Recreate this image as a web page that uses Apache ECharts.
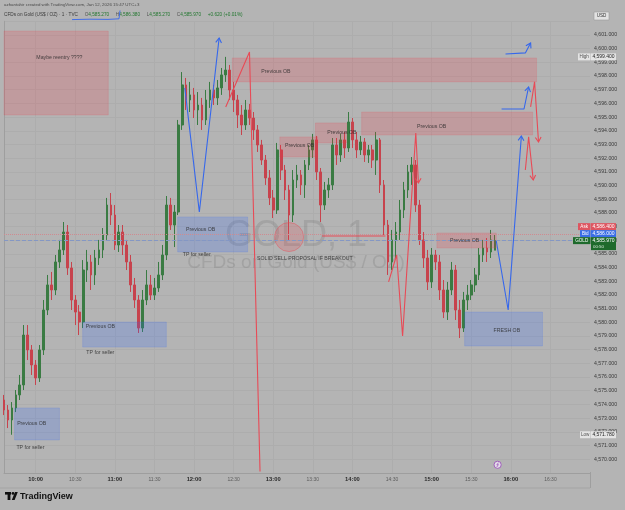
<!DOCTYPE html>
<html>
<head>
<meta charset="utf-8">
<script src="https://cdn.jsdelivr.net/npm/echarts@6/dist/echarts.min.js"></script>
<style>
html,body{margin:0;padding:0;background:#b4b4b4;}
#chart{width:625px;height:510px;}
</style>
</head>
<body>
<div id="chart"></div>
<script>
// GOLD 1m chart, candles grouped by 3 minutes from 09:36
var firstCandle = '09:36';
var candleMinutes = 3;
var slotCount = 149; // 09:36 .. 17:00

var openPx = [
  4574.32, 4573.59, 4572.86, 4573.74, 4574.69, 4575.42, 4579.07, 4577.98, 4576.88, 4575.93,
  4577.98, 4580.90, 4582.73, 4582.36, 4584.41, 4585.29, 4586.60, 4583.97, 4581.63, 4580.75,
  4580.02, 4583.82, 4584.41, 4583.46, 4584.70, 4585.29, 4586.38, 4588.57, 4587.84, 4585.65,
  4586.60, 4585.65, 4584.41, 4582.73, 4581.63, 4579.58, 4581.63, 4582.73, 4581.99, 4582.51,
  4583.46, 4584.92, 4588.57, 4587.11, 4588.06, 4594.42, 4597.35, 4596.25, 4596.62, 4595.52,
  4595.88, 4594.79, 4596.25, 4596.98, 4596.40, 4597.13, 4598.08, 4598.44, 4596.98, 4596.25,
  4595.15, 4594.42, 4595.52, 4594.93, 4594.06, 4592.96, 4591.86, 4590.55, 4589.09, 4588.21,
  4592.60, 4591.13, 4589.67, 4587.84, 4590.40, 4590.77, 4590.04, 4591.50, 4592.60, 4593.33,
  4590.99, 4588.57, 4589.67, 4590.04, 4592.96, 4592.23, 4593.33, 4592.74, 4594.64, 4593.33,
  4592.60, 4593.18, 4592.23, 4592.60, 4591.86, 4593.33, 4590.04, 4587.11, 4584.41, 4586.02,
  4586.60, 4588.21, 4589.67, 4590.99, 4591.50, 4588.57, 4586.02, 4584.70, 4582.95, 4584.92,
  4584.41, 4582.36, 4580.75, 4582.36, 4583.82, 4580.90, 4579.58, 4581.63, 4581.99, 4582.73,
  4583.46, 4584.92, 4585.43, 4585.14, 4585.27
];
var closePx = [
  4573.59, 4572.86, 4573.74, 4574.69, 4575.42, 4579.07, 4577.98, 4576.88, 4575.93, 4577.98,
  4580.90, 4582.73, 4582.36, 4584.41, 4585.29, 4586.60, 4583.97, 4581.63, 4580.75, 4580.02,
  4583.82, 4584.41, 4583.46, 4584.70, 4585.29, 4586.38, 4588.57, 4587.84, 4585.65, 4586.60,
  4585.65, 4584.41, 4582.73, 4581.63, 4579.58, 4581.63, 4582.73, 4581.99, 4582.51, 4583.46,
  4584.92, 4588.57, 4587.11, 4588.06, 4594.42, 4597.35, 4596.25, 4596.62, 4595.52, 4595.88,
  4594.79, 4596.25, 4596.98, 4596.40, 4597.13, 4598.08, 4598.44, 4596.98, 4596.25, 4595.15,
  4594.42, 4595.52, 4594.93, 4594.06, 4592.96, 4591.86, 4590.55, 4589.09, 4588.21, 4592.60,
  4591.13, 4589.67, 4587.84, 4590.40, 4590.77, 4590.04, 4591.50, 4592.60, 4593.33, 4590.99,
  4588.57, 4589.67, 4590.04, 4592.96, 4592.23, 4593.33, 4592.74, 4594.64, 4593.33, 4592.60,
  4593.18, 4592.23, 4592.60, 4591.86, 4593.33, 4590.04, 4587.11, 4584.41, 4586.02, 4586.60,
  4588.21, 4589.67, 4590.99, 4591.50, 4588.57, 4586.02, 4584.70, 4582.95, 4584.92, 4584.41,
  4582.36, 4580.75, 4582.36, 4583.82, 4580.90, 4579.58, 4581.63, 4581.99, 4582.73, 4583.46,
  4584.92, 4585.43, 4585.14, 4586.02, 4585.97
];
var highPx = [
  4574.69, 4573.95, 4574.17, 4575.05, 4576.15, 4579.80, 4579.80, 4578.34, 4577.24, 4578.34,
  4581.63, 4583.46, 4583.68, 4584.92, 4586.02, 4587.33, 4587.11, 4584.41, 4581.99, 4581.26,
  4584.55, 4585.29, 4584.92, 4585.29, 4586.02, 4586.89, 4589.09, 4589.45, 4588.57, 4587.11,
  4587.11, 4586.02, 4584.92, 4583.24, 4581.99, 4582.36, 4583.82, 4583.46, 4583.24, 4584.41,
  4585.65, 4589.23, 4589.09, 4588.57, 4594.79, 4598.29, 4597.86, 4597.57, 4597.13, 4596.83,
  4596.40, 4596.98, 4597.57, 4597.35, 4597.71, 4598.59, 4599.40, 4598.81, 4597.57, 4596.62,
  4595.88, 4596.25, 4595.96, 4595.37, 4594.42, 4593.33, 4592.23, 4591.13, 4589.67, 4593.11,
  4592.96, 4591.50, 4590.04, 4591.13, 4591.50, 4591.13, 4591.86, 4592.96, 4593.77, 4593.62,
  4591.28, 4590.26, 4590.55, 4593.47, 4593.47, 4593.77, 4593.91, 4595.37, 4594.93, 4593.91,
  4593.62, 4593.47, 4592.96, 4592.96, 4593.91, 4593.47, 4590.40, 4587.48, 4586.75, 4587.33,
  4588.94, 4590.26, 4591.50, 4592.08, 4591.86, 4588.94, 4586.60, 4585.29, 4585.43, 4585.29,
  4584.92, 4583.09, 4582.95, 4584.41, 4584.19, 4581.63, 4582.22, 4582.73, 4583.09, 4583.97,
  4585.43, 4586.02, 4586.16, 4586.75, 4586.38
];
var lowPx = [
  4573.22, 4572.27, 4571.78, 4573.44, 4574.32, 4575.05, 4577.24, 4576.15, 4575.42, 4575.64,
  4577.61, 4580.53, 4581.63, 4581.99, 4583.97, 4584.92, 4583.46, 4580.90, 4579.80, 4579.07,
  4579.58, 4582.95, 4582.36, 4582.73, 4584.19, 4584.70, 4586.02, 4587.11, 4585.29, 4585.14,
  4584.92, 4583.82, 4582.22, 4581.05, 4579.22, 4579.29, 4581.26, 4581.63, 4581.63, 4582.22,
  4583.09, 4584.55, 4586.75, 4585.50, 4587.84, 4594.06, 4595.52, 4595.37, 4594.93, 4594.42,
  4594.06, 4594.42, 4595.67, 4595.88, 4595.88, 4596.62, 4597.57, 4596.25, 4595.37, 4594.20,
  4593.69, 4594.06, 4594.42, 4593.33, 4592.45, 4591.50, 4590.04, 4588.57, 4587.62, 4587.92,
  4590.40, 4588.94, 4586.02, 4587.33, 4589.82, 4589.31, 4589.09, 4591.13, 4592.01, 4590.40,
  4587.33, 4588.21, 4589.09, 4589.67, 4591.50, 4591.72, 4592.01, 4592.45, 4592.74, 4592.01,
  4592.23, 4591.72, 4591.65, 4591.28, 4590.77, 4589.45, 4586.38, 4583.46, 4583.82, 4584.70,
  4586.02, 4587.62, 4589.09, 4590.04, 4588.06, 4585.65, 4583.97, 4582.36, 4582.51, 4583.82,
  4581.63, 4580.31, 4580.17, 4581.99, 4580.17, 4578.85, 4579.29, 4580.90, 4581.63, 4582.22,
  4583.09, 4584.41, 4584.41, 4584.70, 4585.27
];

// quote tags
var lastPrice = 4585.97, askPrice = 4586.40, bidPrice = 4586.00;
var rangeHigh = 4599.40, rangeLow = 4571.78;

// drawn zones: [from, to, top, bottom]
var sellZones = [
  ['09:36', '10:55', 4601.29, 4595.15],
  ['12:29', '16:19.5', 4599.32, 4597.57],
  ['14:07', '16:16.5', 4595.37, 4593.69],
  ['13:05', '13:33.6', 4593.55, 4592.08],
  ['13:32', '13:55.6', 4594.57, 4593.11],
  ['15:04', '15:49', 4586.53, 4585.43]
];
var buyZones = [
  ['11:47.6', '12:40.6', 4587.70, 4585.14],
  ['10:35.6', '11:39', 4580.02, 4578.19],
  ['09:44', '10:18', 4573.74, 4571.40],
  ['15:25', '16:24', 4580.75, 4578.27]
];
var notes = [
  ['10:18', 4599.32, 'Maybe reentry ????'],
  ['13:02', 4598.29, 'Previous OB'],
  ['15:00', 4594.28, 'Previous OB'],
  ['13:20', 4592.89, 'Previous OB'],
  ['13:52', 4593.84, 'Previous OB'],
  ['15:25', 4585.94, 'Previous OB'],
  ['12:05', 4586.75, 'Previous OB'],
  ['12:02', 4584.92, 'TP for seller'],
  ['10:49', 4579.66, 'Previous OB'],
  ['10:49', 4577.76, 'TP for seller'],
  ['09:57', 4572.57, 'Previous OB'],
  ['09:56', 4570.81, 'TP for seller'],
  ['15:57', 4579.36, 'FRESH OB'],
  ['13:24', 4584.63, 'SOLID SELL PROPOSAL IF BREAKOUT']
];
// drawn paths
var bluePaths = [
  [['11:53', 4597.13], ['12:04', 4588.06], ['12:19', 4600.78]],
  [['15:49', 4585.94], ['15:58', 4580.90], ['16:08', 4593.62]],
  [['15:53', 4595.59], ['16:10', 4595.59], ['16:13.5', 4597.20]],
  [['15:56', 4599.61], ['16:11', 4599.69], ['16:15', 4600.42]]
];
var redPaths = [
  [['12:24', 4595.74], ['12:42', 4599.76], ['12:50', 4569.10]],
  [['14:27.4', 4582.95], ['14:33.5', 4584.92], ['14:38', 4579.00], ['14:48', 4593.84], ['14:50', 4590.18]],
  [['16:15', 4595.74], ['16:18', 4597.57], ['16:21', 4593.18]],
  [['16:11', 4591.13], ['16:13.5', 4593.55], ['16:17', 4590.40]],
  [['13:37', 4586.31], ['14:25', 4586.31]]
];
var redArrow = [false, true, true, true, false];
var breakoutCircle = ['13:12', 4586.23];

var UP = '#3a7b43', DOWN = '#c7434d', BLUE = '#3567ec', RED = '#e84a56';
var FONT = '"Liberation Sans", Arial, sans-serif';

function pad(n) { return (n < 10 ? '0' : '') + n; }
function toMin(t) {
  var p = t.split(':');
  var s = firstCandle.split(':');
  return (+p[0]) * 60 + parseFloat(p[1]) - ((+s[0]) * 60 + (+s[1]));
}
function fmtPrice(v) {
  var s = v.toFixed(3);
  return s.charAt(0) + ',' + s.slice(1);
}

var times = [];
var startM = toMin('00:00') * -1;
for (var i = 0; i < slotCount; i++) {
  var m = startM + i * candleMinutes;
  times.push(pad(Math.floor(m / 60)) + ':' + pad(m % 60));
}
var candles = openPx.map(function(o, i) {
  return [o, closePx[i], lowPx[i], highPx[i]];
});
function isMark(idx, val) {
  var mm = val.slice(3);
  return idx < slotCount - 1 && (mm === '00' || mm === '30');
}
var lastMin = (slotCount - 1) * candleMinutes;

var chart = echarts.init(document.getElementById('chart'));

function zoneSeries(list, fill, stroke) {
  return {
    type: 'custom',
    xAxisIndex: 1,
    yAxisIndex: 0,
    silent: true,
    z: 3,
    encode: { x: [0, 2], y: [1, 3] },
    data: list.map(function(b) { return [toMin(b[0]), b[2], toMin(b[1]), b[3]]; }),
    renderItem: function(params, api) {
      var a = api.coord([api.value(0), api.value(1)]);
      var b = api.coord([api.value(2), api.value(3)]);
      return {
        type: 'rect',
        shape: { x: a[0], y: a[1], width: b[0] - a[0], height: b[1] - a[1] },
        style: { fill: fill, stroke: stroke, lineWidth: 0.8 }
      };
    }
  };
}

var series = [{
  type: 'candlestick',
  name: 'GOLD',
  xAxisIndex: 0,
  yAxisIndex: 0,
  barWidth: 2.2,
  z: 2,
  data: candles,
  itemStyle: { color: UP, color0: DOWN, borderColor: UP, borderColor0: DOWN, borderWidth: 1 },
  markLine: {
    silent: true,
    symbol: 'none',
    label: { show: false },
    animation: false,
    data: [
      { yAxis: askPrice, lineStyle: { color: '#d08a90', type: 'dotted', width: 1 } },
      { yAxis: lastPrice, lineStyle: { color: '#8497c4', type: 'dashed', width: 1 } }
    ]
  }
}];
series.push(zoneSeries(sellZones, 'rgba(242,54,69,0.2)', 'rgba(242,54,69,0.18)'));
series.push(zoneSeries(buyZones, 'rgba(41,98,255,0.2)', 'rgba(41,98,255,0.18)'));

var pathList = [];
bluePaths.forEach(function(p) { pathList.push({ pts: p, color: BLUE, arrow: true }); });
redPaths.forEach(function(p, k) { pathList.push({ pts: p, color: RED, arrow: redArrow[k] }); });
pathList.forEach(function(d) {
  series.push({
    type: 'line',
    xAxisIndex: 1,
    yAxisIndex: 0,
    silent: true,
    symbol: 'none',
    z: 5,
    lineStyle: { color: d.color, width: 1.1 },
    data: d.pts.map(function(q) { return [toMin(q[0]), q[1]]; })
  });
});
series.push({
  type: 'scatter',
  xAxisIndex: 1,
  yAxisIndex: 0,
  silent: true,
  z: 4,
  symbolSize: 29,
  itemStyle: { color: 'rgba(242,54,69,0.22)', borderColor: 'rgba(232,74,86,0.55)', borderWidth: 1 },
  data: [[toMin(breakoutCircle[0]), breakoutCircle[1]]]
});
var notesIndex = series.length;
series.push({
  type: 'scatter',
  xAxisIndex: 1,
  yAxisIndex: 0,
  silent: true,
  z: 6,
  symbolSize: 1,
  itemStyle: { color: 'rgba(0,0,0,0)' },
  label: {
    show: true,
    position: 'inside',
    formatter: function(p) { return p.name; },
    fontSize: 5.2,
    fontFamily: FONT,
    color: '#262626'
  },
  data: notes.map(function(n) { return { name: n[2], value: [toMin(n[0]), n[1]] }; })
});

chart.setOption({
  animation: false,
  backgroundColor: '#b4b4b4',
  grid: { left: 4, right: 35, top: 21.3, bottom: 37.2 },
  xAxis: [{
    type: 'category',
    data: times,
    boundaryGap: false,
    axisLine: { show: true, lineStyle: { color: '#9e9e9e' } },
    axisTick: { show: false },
    axisLabel: {
      interval: isMark,
      margin: 4,
      formatter: function(v) { return v.slice(3) === '00' ? '{h|' + v + '}' : '{m|' + v + '}'; },
      rich: {
        h: { fontSize: 5.8, fontWeight: 'bold', color: '#2b2b2b', fontFamily: FONT },
        m: { fontSize: 5, color: '#5c5c5c', fontFamily: FONT }
      }
    },
    splitLine: { show: true, interval: isMark, lineStyle: { color: '#adadad', width: 1 } }
  }, {
    type: 'value',
    show: false,
    min: 0,
    max: lastMin
  }],
  yAxis: {
    type: 'value',
    position: 'right',
    min: 4569,
    max: 4602,
    interval: 1,
    axisLine: { show: true, lineStyle: { color: '#9e9e9e' } },
    axisTick: { show: false },
    axisLabel: {
      margin: 4,
      fontSize: 5.2,
      fontFamily: FONT,
      color: '#3a3a3a',
      formatter: function(v) { return (v <= 4569 || v >= 4602) ? '' : fmtPrice(v); }
    },
    splitLine: { show: true, lineStyle: { color: '#adadad', width: 1 } }
  },
  series: series
});

// overlay: header, watermark, price tags, arrow heads
var g = [];
function yPx(v) { return chart.convertToPixel({ yAxisIndex: 0 }, v); }
function box(x, y, w, h, fill, stroke) {
  g.push({ type: 'rect', z: 20, shape: { x: x, y: y, width: w, height: h }, style: { fill: fill, stroke: stroke || null, lineWidth: 0.6 } });
}
function txt(x, y, s, size, fill, align, weight) {
  g.push({ type: 'text', z: 21, x: x, y: y, style: {
    text: s, fill: fill, align: align || 'left', verticalAlign: 'middle',
    font: (weight || 'normal') + ' ' + size + 'px ' + FONT
  } });
}

// watermark
g.push({ type: 'text', z: 1, x: 296, y: 236, style: { text: 'GOLD, 1', fill: 'rgba(95,95,95,0.2)', align: 'center', verticalAlign: 'middle', font: '36px ' + FONT } });
g.push({ type: 'text', z: 1, x: 296, y: 263, style: { text: 'CFDs on Gold (US$ / OZ)', fill: 'rgba(95,95,95,0.2)', align: 'center', verticalAlign: 'middle', font: '19px ' + FONT } });

// header lines
txt(4, 5, 'azhantahir created with TradingView.com, Jan 12, 2026 15:47 UTC+3', 4.4, '#4a4a4a');
g.push({ type: 'text', z: 21, x: 4, y: 15, style: {
  text: '{a|CFDs on Gold (US$ / OZ) · 1 · TVC}  {k|O}{v|4,585.270}  {k|H}{v|4,586.380}  {k|L}{v|4,585.270}  {k|C}{v|4,585.970}  {v|+0.620 (+0.01%)}',
  verticalAlign: 'middle',
  rich: {
    a: { fontSize: 4.7, fill: '#3a3a3a', fontFamily: FONT },
    k: { fontSize: 4.7, fill: '#555555', fontFamily: FONT },
    v: { fontSize: 4.7, fill: '#22772f', fontFamily: FONT }
  }
} });
g.push({ type: 'polyline', z: 21, shape: { points: [[72, 19.6], [90, 19.2], [108, 19.4], [119, 18.8], [120, 10.5]] }, style: { stroke: BLUE, lineWidth: 0.9, fill: null } });

// currency box
box(594, 12, 15, 8, '#e2e2e2', '#9c9c9c');
txt(601.5, 16, 'USD', 4.6, '#333333', 'center');

var VX = 591, VW = 25, VC = VX + VW / 2;
// high / low tags
var yH = yPx(rangeHigh), yL = yPx(rangeLow);
box(578, yH - 3.5, 12.5, 7, '#e4e4e4');
txt(584.2, yH, 'High', 4.6, '#555555', 'center');
box(VX, yH - 3.5, VW, 7, '#e4e4e4');
txt(VC, yH, fmtPrice(rangeHigh), 5, '#222222', 'center');
box(580, yL - 3.5, 10.5, 7, '#e4e4e4');
txt(585.2, yL, 'Low', 4.6, '#555555', 'center');
box(VX, yL - 3.5, VW, 7, '#e4e4e4');
txt(VC, yL, fmtPrice(rangeLow), 5, '#222222', 'center');

// ask / bid / last
var yC = yPx(lastPrice);
box(578, yC - 17.5, 12.5, 7, '#de5560');
txt(584.2, yC - 14, 'Ask', 4.6, '#ffffff', 'center');
box(VX, yC - 17.5, VW, 7, '#de5560');
txt(VC, yC - 14, fmtPrice(askPrice), 5, '#ffffff', 'center');
box(580, yC - 10.5, 10.5, 7, '#3b6ee6');
txt(585.2, yC - 7, 'Bid', 4.6, '#ffffff', 'center');
box(VX, yC - 10.5, VW, 7, '#3b6ee6');
txt(VC, yC - 7, fmtPrice(bidPrice), 5, '#ffffff', 'center');
box(573, yC - 3.5, 17.5, 7, '#1e6a2c');
txt(581.7, yC, 'GOLD', 4.6, '#ffffff', 'center');
box(VX, yC - 3.5, VW, 13, '#1e6a2c');
txt(VC, yC, fmtPrice(lastPrice), 5, '#ffffff', 'center');
txt(VX + 2, yC + 6, '00:50', 4.4, '#d8e8da', 'left');

// arrow heads
pathList.forEach(function(d) {
  if (!d.arrow) return;
  var n = d.pts.length;
  var a = chart.convertToPixel({ seriesIndex: notesIndex }, [toMin(d.pts[n - 2][0]), d.pts[n - 2][1]]);
  var b = chart.convertToPixel({ seriesIndex: notesIndex }, [toMin(d.pts[n - 1][0]), d.pts[n - 1][1]]);
  var ang = Math.atan2(b[1] - a[1], b[0] - a[0]);
  var L = 5.5, s = 0.55;
  g.push({ type: 'polyline', z: 22, shape: { points: [
    [b[0] - L * Math.cos(ang - s), b[1] - L * Math.sin(ang - s)],
    [b[0], b[1]],
    [b[0] - L * Math.cos(ang + s), b[1] - L * Math.sin(ang + s)]
  ] }, style: { stroke: d.color, lineWidth: 1.1, fill: null } });
});

// event marker on time axis
var ev = chart.convertToPixel({ seriesIndex: notesIndex }, [toMin('15:50'), 4569]);
g.push({ type: 'circle', z: 21, shape: { cx: ev[0], cy: ev[1] - 8, r: 3.6 }, style: { fill: '#e3dbe9', stroke: '#9b55b8', lineWidth: 0.9 } });
g.push({ type: 'polyline', z: 22, shape: { points: [[ev[0] + 0.8, ev[1] - 10.2], [ev[0] - 0.8, ev[1] - 7.8], [ev[0] + 0.8, ev[1] - 8.2], [ev[0] - 0.8, ev[1] - 5.8]] }, style: { stroke: '#9b55b8', lineWidth: 0.7, fill: null } });

// axis frame below time labels
g.push({ type: 'line', z: 20, shape: { x1: 0, y1: 488, x2: 590, y2: 488 }, style: { stroke: '#a4a4a4', lineWidth: 1 } });
g.push({ type: 'line', z: 20, shape: { x1: 590.5, y1: 472, x2: 590.5, y2: 488 }, style: { stroke: '#9e9e9e', lineWidth: 1 } });

// footer logo
box(5, 492, 6, 2.6, '#111111');
box(7.6, 492, 2.8, 8, '#111111');
g.push({ type: 'circle', z: 21, shape: { cx: 13, cy: 493.4, r: 1.4 }, style: { fill: '#111111' } });
g.push({ type: 'polygon', z: 21, shape: { points: [[15, 492], [17.8, 492], [14.6, 500], [11.8, 500]] }, style: { fill: '#111111' } });
txt(20, 496.3, 'TradingView', 9, '#111111', 'left', 'bold');

chart.setOption({ graphic: g });
</script>
</body>
</html>
